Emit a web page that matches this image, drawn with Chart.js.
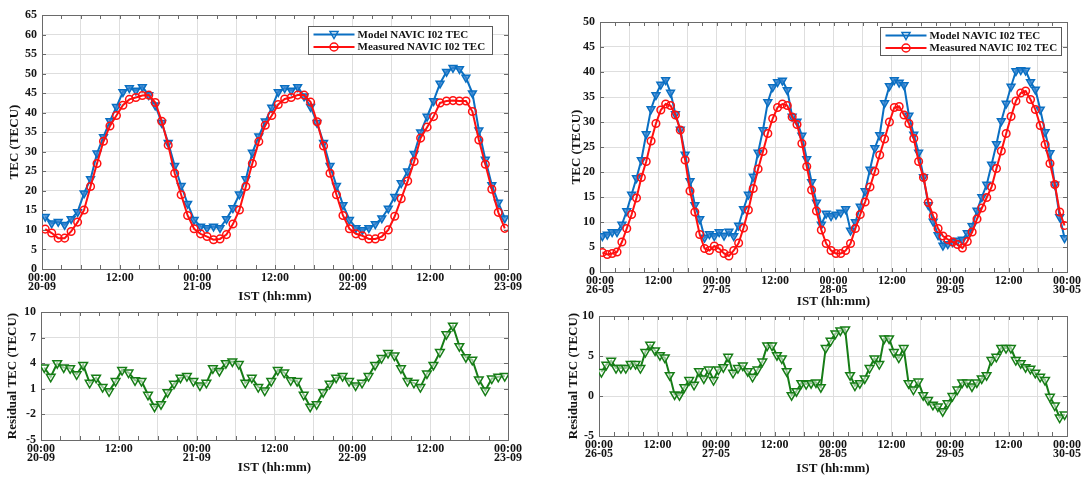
<!DOCTYPE html>
<html>
<head>
<meta charset="utf-8">
<title>NAVIC I02 TEC</title>
<script src="https://cdn.jsdelivr.net/npm/chart.js@4.4.0/dist/chart.umd.min.js"></script>
<style>
  body { margin: 0; background: #fff; }
  #wrap { position: relative; width: 1082px; height: 477px; }
  canvas { position: absolute; }
</style>
</head>
<body>
<div id="wrap">
  <canvas id="tecSep" width="540" height="312" style="left:0;top:0"></canvas>
  <canvas id="resSep" width="540" height="172" style="left:0;top:305px"></canvas>
  <canvas id="tecMay" width="542" height="312" style="left:540px;top:0"></canvas>
  <canvas id="resMay" width="542" height="172" style="left:540px;top:305px"></canvas>
</div>
<script>
// hourly values, each plotted at the middle of its hour (IST)
const datesSep = ['20-09', '21-09', '22-09', '23-09'];
const datesMay = ['26-05', '27-05', '28-05', '29-05', '30-05'];
const legendLabels = ['Model NAVIC I02 TEC', 'Measured NAVIC I02 TEC'];

const modelSep = [
  13.4, 11.7, 12.1, 11.3, 12.8, 14.6, 19.4, 23.0, 29.6, 33.8, 37.9, 41.5, 45.3, 46.3, 45.7, 46.6, 44.5, 41.9, 37.4, 32.3, 26.4, 21.3, 16.7, 12.6,
  10.9, 10.5, 10.9, 10.5, 12.8, 15.6, 19.1, 23.0, 29.8, 34.0, 37.8, 41.3, 45.3, 46.3, 45.7, 46.6, 44.2, 41.5, 37.4, 32.3, 26.4, 21.3, 16.4, 12.6,
  10.5, 10.0, 10.5, 11.5, 13.0, 15.5, 18.5, 22.0, 25.0, 29.5, 35.0, 39.0, 43.0, 47.5, 50.5, 51.5, 51.2, 49.0, 45.0, 35.5, 28.0, 21.5, 17.0, 13.0
];
const measuredSep = [
  10.2, 9.2, 7.9, 7.9, 9.6, 12.0, 15.1, 21.1, 27.0, 32.7, 36.6, 39.3, 41.9, 43.4, 43.9, 44.4, 44.5, 42.6, 37.8, 31.7, 24.5, 19.0, 13.7, 10.3,
  9.0, 8.3, 7.5, 7.7, 8.8, 11.5, 15.1, 21.1, 27.0, 32.6, 36.8, 39.3, 42.1, 43.5, 43.9, 44.5, 44.5, 42.7, 37.7, 31.5, 24.5, 19.0, 13.7, 10.3,
  9.0, 8.5, 7.7, 7.7, 8.3, 10.0, 13.5, 18.0, 22.5, 27.5, 33.5, 36.3, 39.0, 42.5, 43.0, 43.1, 43.0, 43.0, 40.3, 33.0, 26.8, 20.4, 14.5, 10.4
];
const residualSep = [
  3.5, 2.4, 4.0, 3.5, 3.4, 2.7, 3.8, 1.7, 2.3, 1.2, 0.7, 1.9, 3.2, 2.9, 2.0, 1.9, 0.3, -1.1, -0.8, 0.6, 1.6, 2.3, 2.5, 1.9,
  1.4, 1.7, 3.4, 3.1, 4.0, 4.2, 3.9, 1.7, 2.3, 1.2, 0.8, 1.9, 3.2, 2.9, 2.0, 1.9, 0.3, -1.1, -0.8, 0.6, 1.6, 2.3, 2.5, 1.9,
  1.4, 1.7, 2.5, 3.8, 4.6, 5.2, 4.9, 3.4, 1.9, 1.7, 1.2, 2.8, 3.8, 5.3, 7.4, 8.4, 6.0, 4.7, 4.4, 2.1, 0.8, 2.2, 2.4, 2.5
];

const modelMay = [
  7.2, 7.5, 8.0, 8.0, 9.5, 12.2, 15.5, 18.8, 22.4, 27.6, 32.6, 35.4, 37.5, 38.4, 35.9, 31.6, 28.5, 23.5, 18.2, 13.4, 10.6, 6.9, 7.6, 7.2,
  8.0, 7.3, 8.1, 7.2, 9.3, 12.6, 15.5, 19.1, 23.9, 28.4, 34.0, 37.0, 38.0, 38.3, 36.4, 31.1, 30.1, 27.3, 22.6, 18.0, 13.9, 9.5, 11.7, 11.2,
  11.5, 11.9, 12.6, 8.3, 10.0, 13.1, 16.2, 20.5, 24.8, 27.4, 33.8, 37.2, 38.4, 37.9, 37.4, 31.3, 27.5, 23.9, 19.0, 13.4, 10.1, 7.4, 5.3, 5.6,
  6.0, 6.3, 6.5, 7.8, 9.2, 12.3, 15.0, 17.5, 21.5, 25.6, 30.2, 33.7, 37.1, 40.2, 40.4, 40.3, 38.0, 36.5, 32.5, 28.0, 23.8, 17.5, 11.0, 6.8
];
const measuredMay = [
  3.9, 3.5, 3.7, 4.0, 6.0, 8.7, 11.5, 14.8, 18.9, 22.1, 26.2, 29.7, 32.4, 33.6, 33.3, 31.4, 28.4, 22.4, 16.2, 12.0, 7.5, 4.7, 4.3, 5.2,
  4.7, 3.7, 3.2, 4.3, 5.8, 8.8, 12.4, 16.7, 20.6, 24.1, 27.7, 30.7, 32.9, 33.6, 33.3, 31.0, 29.5, 25.7, 21.1, 16.4, 12.2, 8.4, 5.7, 4.3,
  3.7, 3.7, 4.3, 5.7, 8.7, 11.5, 14.0, 17.0, 20.1, 23.4, 26.6, 30.0, 32.9, 33.1, 31.4, 29.7, 26.7, 22.1, 18.9, 13.9, 11.2, 8.7, 7.2, 6.5,
  6.0, 5.5, 4.8, 6.1, 8.0, 10.6, 12.8, 14.9, 17.0, 20.7, 24.2, 27.7, 31.1, 34.2, 35.8, 36.2, 34.5, 32.5, 29.3, 25.5, 21.7, 17.5, 12.0, 9.3
];
const residualMay = [
  3.0, 3.9, 4.4, 3.5, 3.5, 3.5, 4.0, 4.0, 3.5, 5.5, 6.4, 5.7, 5.1, 4.8, 2.6, 0.2, 0.1, 1.1, 2.0, 1.4, 3.1, 2.2, 3.3, 2.0,
  3.3, 3.6, 4.9, 2.9, 3.5, 3.8, 3.1, 2.4, 3.3, 4.3, 6.3, 6.3, 5.1, 4.7, 3.1, 0.1, 0.6, 1.6, 1.5, 1.6, 1.7, 1.1, 6.0, 6.9,
  7.8, 8.2, 8.3, 2.6, 1.3, 1.6, 2.2, 3.5, 4.7, 4.0, 7.2, 7.2, 5.5, 4.8, 6.0, 1.6, 0.8, 1.8, 0.1, -0.5, -1.1, -1.3, -1.9, -0.9,
  0.0, 0.8, 1.7, 1.7, 1.2, 1.7, 2.2, 2.6, 4.5, 4.9, 6.0, 6.0, 6.0, 4.5, 4.1, 3.6, 3.4, 2.9, 2.4, 2.0, -0.1, -1.2, -2.7, -2.3
];

const FONT = '"Liberation Serif", "Times New Roman", serif';
const INK = '#141414';
const BLUE = '#0a6fc2', RED = '#ff1010', GREEN = '#167d16';

function series(values, color, style, radius, fill) {
  return {
    data: values.map((v, i) => ({ x: i + 0.5, y: v })),
    borderColor: color,
    borderWidth: 2,
    pointStyle: style,
    pointRotation: style === 'triangle' ? 180 : 0,
    pointRadius: radius,
    pointBorderColor: color,
    pointBackgroundColor: fill,
    pointBorderWidth: 1.5,
    tension: 0
  };
}

// box round the plot plus short inward ticks, like the MATLAB axes
const frame = {
  id: 'frame',
  beforeDatasetsDraw(chart) {
    const { ctx, chartArea: a, scales } = chart;
    ctx.save();
    ctx.strokeStyle = '#6a6a6a';
    ctx.lineWidth = 1;
    ctx.beginPath();
    for (let t = 0; t <= scales.x.max; t += 3) {
      const px = Math.round(scales.x.getPixelForValue(t)) + 0.5;
      ctx.moveTo(px, a.bottom); ctx.lineTo(px, a.bottom - 4);
      ctx.moveTo(px, a.top); ctx.lineTo(px, a.top + 4);
    }
    scales.y.ticks.forEach(t => {
      const py = Math.round(scales.y.getPixelForValue(t.value)) + 0.5;
      ctx.moveTo(a.left, py); ctx.lineTo(a.left + 4, py);
      ctx.moveTo(a.right, py); ctx.lineTo(a.right - 4, py);
    });
    ctx.stroke();
    ctx.strokeRect(Math.round(a.left) + 0.5, Math.round(a.top) + 0.5,
      Math.round(a.right - a.left), Math.round(a.bottom - a.top));
    ctx.restore();
  }
};

function marker(ctx, style, x, y, r) {
  ctx.beginPath();
  if (style === 'triangle') {
    ctx.moveTo(x - r, y - r * 0.75);
    ctx.lineTo(x + r, y - r * 0.75);
    ctx.lineTo(x, y + r);
    ctx.closePath();
  } else {
    ctx.arc(x, y, r, 0, Math.PI * 2);
  }
  ctx.stroke();
}

const legendBox = {
  id: 'legendBox',
  afterDatasetsDraw(chart, args, o) {
    if (!o.items) return;
    const { ctx, chartArea: a } = chart;
    const x = Math.round(a.right - o.right - o.width) + 0.5;
    const y = Math.round(a.top + o.top) + 0.5;
    ctx.save();
    ctx.fillStyle = '#fff';
    ctx.fillRect(x, y, o.width, o.height);
    ctx.strokeStyle = '#5a5a5a';
    ctx.lineWidth = 1;
    ctx.strokeRect(x, y, o.width, o.height);
    ctx.font = 'bold 11px ' + FONT;
    ctx.textBaseline = 'middle';
    o.items.forEach((it, k) => {
      const ly = y + 8 + k * 12.5;
      ctx.strokeStyle = it.color;
      ctx.lineWidth = 2;
      ctx.beginPath();
      ctx.moveTo(x + 5, ly); ctx.lineTo(x + 46, ly);
      ctx.stroke();
      ctx.lineWidth = 1.5;
      marker(ctx, it.style, x + 25.5, ly, 4);
      ctx.fillStyle = INK;
      ctx.fillText(it.label, x + 49, ly + 0.5);
    });
    ctx.restore();
  }
};

const axisTitles = {
  id: 'axisTitles',
  afterDraw(chart, args, o) {
    const { ctx, chartArea: a } = chart;
    ctx.save();
    ctx.fillStyle = INK;
    ctx.font = 'bold 13px ' + FONT;
    ctx.textAlign = 'center';
    ctx.textBaseline = 'middle';
    ctx.fillText(o.x, (a.left + a.right) / 2, a.bottom + o.xOffset);
    ctx.translate(o.yPos, (a.top + a.bottom) / 2);
    ctx.rotate(-Math.PI / 2);
    ctx.fillText(o.y, 0, 0);
    ctx.restore();
  }
};

function buildChart(id, o) {
  const tickFont = { family: FONT, size: 12, weight: 'bold', lineHeight: 0.72 };
  return new Chart(document.getElementById(id), {
    type: 'line',
    data: { datasets: o.datasets },
    options: {
      responsive: false,
      animation: false,
      devicePixelRatio: 1,
      layout: { padding: { top: o.top, right: o.right, left: 0, bottom: 0 } },
      plugins: {
        legend: { display: false },
        tooltip: { enabled: false },
        legendBox: o.legend || {},
        axisTitles: { x: 'IST (hh:mm)', y: o.yTitle, xOffset: o.xTitleOffset, yPos: o.yTitlePos }
      },
      scales: {
        x: {
          type: 'linear',
          min: 0,
          max: o.dates.length * 24 - 24,
          grid: { color: '#dedede', drawTicks: false },
          border: { display: false },
          ticks: {
            stepSize: 6,
            autoSkip: false,
            maxRotation: 0,
            padding: 5,
            color: INK,
            font: tickFont,
            callback: v => v % 24 === 0 ? ['00:00', o.dates[v / 24]] : (v % 12 === 0 ? '12:00' : '')
          },
          afterFit(s) { s.height = o.xHeight; s.paddingLeft = 0; s.paddingRight = 0; }
        },
        y: {
          min: o.yMin,
          max: o.yMax,
          grid: { color: '#dedede', drawTicks: false },
          border: { display: false },
          ticks: { stepSize: o.yStep, padding: 5, color: INK, font: tickFont },
          afterFit(s) { s.width = o.left; s.paddingTop = 0; s.paddingBottom = 0; }
        }
      }
    },
    plugins: [frame, legendBox, axisTitles]
  });
}

const legendItems = [
  { label: legendLabels[0], color: BLUE, style: 'triangle' },
  { label: legendLabels[1], color: RED, style: 'circle' }
];

buildChart('tecSep', {
  datasets: [
    series(measuredSep, RED, 'circle', 3.8, 'rgba(255,255,255,0)'),
    series(modelSep, BLUE, 'triangle', 4.5, 'rgba(60,135,210,0.75)')
  ],
  dates: datesSep, left: 42, right: 32, top: 15, xHeight: 43,
  yMin: 0, yMax: 65, yStep: 5, yTitle: 'TEC (TECU)', yTitlePos: 15, xTitleOffset: 28,
  legend: { items: legendItems, right: 16, top: 11, width: 184, height: 28 }
});

buildChart('resSep', {
  datasets: [series(residualSep, GREEN, 'triangle', 5, 'rgba(255,255,255,0.55)')],
  dates: datesSep, left: 41, right: 32, top: 7, xHeight: 37,
  yMin: -5, yMax: 10, yStep: 3, yTitle: 'Residual TEC (TECU)', yTitlePos: 13, xTitleOffset: 28
});

buildChart('tecMay', {
  datasets: [
    series(measuredMay, RED, 'circle', 3.8, 'rgba(255,255,255,0)'),
    series(modelMay, BLUE, 'triangle', 4.5, 'rgba(60,135,210,0.75)')
  ],
  dates: datesMay, left: 60, right: 15, top: 22, xHeight: 40,
  yMin: 0, yMax: 50, yStep: 5, yTitle: 'TEC (TECU)', yTitlePos: 37, xTitleOffset: 30,
  legend: { items: legendItems, right: 6, top: 5, width: 181, height: 28 }
});

buildChart('resMay', {
  datasets: [series(residualMay, GREEN, 'triangle', 5, 'rgba(255,255,255,0.55)')],
  dates: datesMay, left: 59, right: 15, top: 11, xHeight: 41,
  yMin: -5, yMax: 10, yStep: 5, yTitle: 'Residual TEC (TECU)', yTitlePos: 34, xTitleOffset: 33
});
</script>
</body>
</html>
